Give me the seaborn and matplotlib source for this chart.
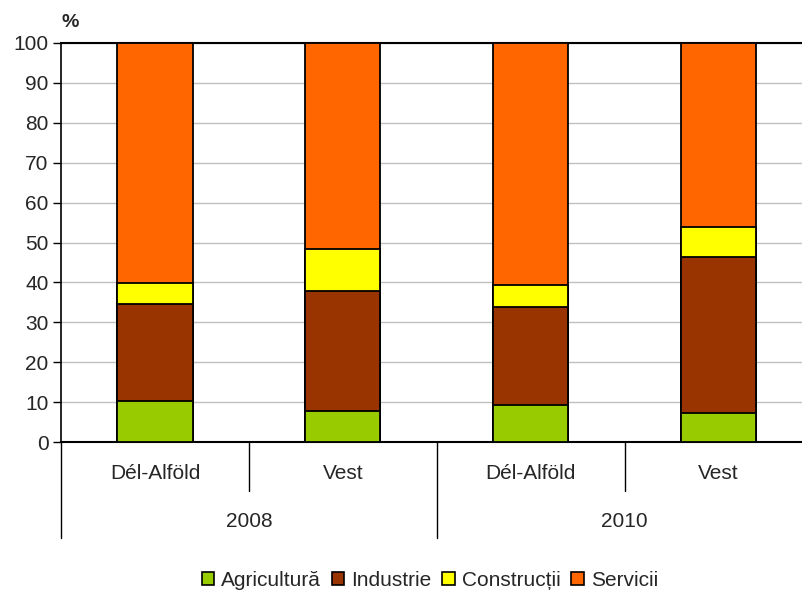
import numpy as np
import pandas as pd
import matplotlib
matplotlib.use("Agg")
import matplotlib.pyplot as plt
import matplotlib.transforms as mtransforms
from matplotlib.patches import Patch
import seaborn as sns

# data (percent of employment)
regions = ["Dél-Alföld", "Vest", "Dél-Alföld", "Vest"]
years = ["2008", "2010"]
agricultura = [10.3, 7.9, 9.3, 7.4]
industrie = [24.2, 30.0, 24.6, 39.0]
constructii = [5.4, 10.5, 5.5, 7.5]
servicii = [60.1, 51.6, 60.6, 46.1]

series_names = ["Agricultură", "Industrie", "Construcții", "Servicii"]
colors = ["#99CC00", "#993300", "#FFFF00", "#FF6600"]


def build_frame():
    keys = [f"{r} {y}" for y in years for r in regions[:2]]
    df = pd.DataFrame({
        "key": keys,
        "Agricultură": agricultura,
        "Industrie": industrie,
        "Construcții": constructii,
        "Servicii": servicii,
    })
    # cumulative tops, so the bars can be drawn over each other
    cum = df[series_names].cumsum(axis=1)
    cum["key"] = df["key"]
    return cum


def main():
    sns.set_style("white")
    plt.rcParams["font.family"] = ["Liberation Sans", "DejaVu Sans"]

    cum = build_frame()

    fig = plt.figure(figsize=(8.02, 5.97), dpi=100)
    ax = fig.add_axes([0.0761, 0.2591, 0.9239, 0.6694])

    # draw from top of the stack down
    for name, col in zip(series_names[::-1], colors[::-1]):
        sns.barplot(data=cum, x="key", y=name, color=col, width=0.40,
                    edgecolor="black", linewidth=1.3, saturation=1,
                    ax=ax, zorder=3)

    ax.set_ylim(0, 100)
    ax.set_xlim(-0.5, 3.444)
    ax.set_yticks(np.arange(0, 101, 10))
    ax.yaxis.grid(True, color="#C0C0C0", linewidth=1)
    ax.set_axisbelow(True)
    ax.set_xlabel("")
    ax.set_ylabel("")
    ax.set_xticks([])
    ax.tick_params(axis="y", left=True, length=6, width=1, color="black",
                   labelsize=15, pad=3, direction="out")

    for side in ["left", "bottom", "top"]:
        ax.spines[side].set_visible(True)
        ax.spines[side].set_color("black")
    ax.spines["left"].set_linewidth(1.2)
    ax.spines["bottom"].set_linewidth(1.5)
    ax.spines["top"].set_linewidth(1.5)
    ax.spines["right"].set_visible(False)

    # two-level category axis under the plot
    trans = mtransforms.blended_transform_factory(ax.transData, ax.transAxes)
    for i, r in enumerate(regions):
        ax.text(i, -0.077, r, transform=trans, ha="center", va="center",
                fontsize=15)
    for j, y in enumerate(years):
        ax.text(2 * j + 0.5, -0.197, y, transform=trans, ha="center",
                va="center", fontsize=15)
    for x0 in [-0.5, 1.5]:
        ax.plot([x0, x0], [0, -0.24], transform=trans, color="black",
                linewidth=1, clip_on=False)
    for x0 in [0.5, 2.5]:
        ax.plot([x0, x0], [0, -0.122], transform=trans, color="black",
                linewidth=1, clip_on=False)

    fig.text(0.088, 0.962, "%", fontsize=14, fontweight="bold",
             ha="center", va="center")

    handles = [Patch(facecolor=c, edgecolor="black", linewidth=1.2)
               for c in colors]
    fig.legend(handles, series_names, loc="center",
               bbox_to_anchor=(0.536, 0.028), ncol=4, frameon=False,
               fontsize=15, handlelength=0.6, handleheight=0.6,
               handletextpad=0.35, columnspacing=0.5)

    fig.savefig("out.png", dpi=100)


if __name__ == "__main__":
    main()
